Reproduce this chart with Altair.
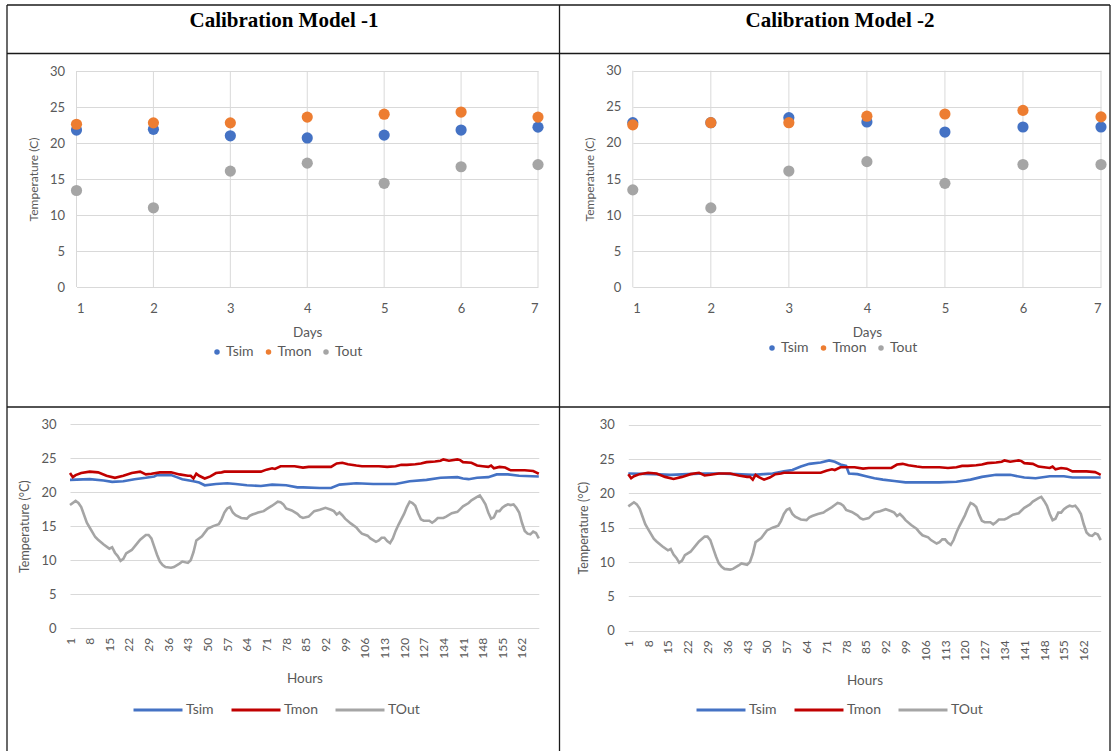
import altair as alt
import pandas as pd

# ---------------- daily averages (scatter panels) ----------------
DAYS = [1, 2, 3, 4, 5, 6, 7]
M1_TSIM = [21.8, 21.9, 21.0, 20.7, 21.1, 21.8, 22.2]
M1_TMON = [22.6, 22.8, 22.8, 23.6, 24.0, 24.3, 23.6]
M1_TOUT = [13.4, 11.0, 16.1, 17.2, 14.4, 16.7, 17.0]

M2_TSIM = [22.8, 22.8, 23.5, 22.9, 21.5, 22.2, 22.2]
M2_TMON = [22.5, 22.8, 22.8, 23.7, 24.0, 24.5, 23.6]
M2_TOUT = [13.5, 11.0, 16.1, 17.4, 14.4, 17.0, 17.0]

# ---------------- hourly series (line panels) ----------------
TOUT_HOURS = [1, 3, 4, 5, 7, 8, 10, 11, 13, 15, 16, 17, 18, 19, 20, 21, 23, 25, 26, 28,
              29, 30, 31, 32, 33, 34, 35, 37, 38, 40, 41, 43, 44, 45, 46, 48, 50, 52, 54, 55,
              56, 57, 58, 59, 60, 62, 64, 65, 66, 68, 70, 71, 73, 74, 75, 76, 77, 78, 80, 82,
              83, 84, 86, 87, 88, 90, 92, 94, 95, 96, 97, 98, 99, 101, 103, 104, 105, 107, 108, 110,
              111, 112, 113, 114, 115, 116, 117, 118, 120, 121, 122, 123, 124, 125, 126, 127, 129, 130, 131, 132,
              134, 135, 137, 139, 140, 141, 143, 144, 146, 147, 148, 149, 150, 151, 152, 153, 154, 155, 156, 157,
              158, 159, 160, 161, 162, 163, 164, 165, 166, 167, 168]
TOUT = [18.1, 18.7, 18.4, 17.8, 15.5, 14.8, 13.4, 13.0, 12.3, 11.7, 11.9, 11.1, 10.6, 9.9, 10.2, 11.0, 11.5, 12.5, 13.0, 13.7,
        13.7, 13.2, 12.0, 10.8, 9.8, 9.3, 9.0, 8.9, 9.0, 9.5, 9.8, 9.6, 10.0, 11.2, 12.9, 13.5, 14.6, 15.0, 15.3, 16.0,
        17.0, 17.6, 17.8, 17.0, 16.6, 16.2, 16.1, 16.5, 16.7, 17.0, 17.2, 17.5, 18.0, 18.3, 18.6, 18.5, 18.2, 17.6, 17.3, 16.8,
        16.4, 16.2, 16.4, 16.8, 17.2, 17.4, 17.7, 17.4, 17.2, 16.7, 17.0, 16.6, 16.1, 15.4, 14.8, 14.3, 13.9, 13.6, 13.2, 12.7,
        12.9, 13.3, 13.3, 12.8, 12.5, 13.2, 14.3, 15.2, 16.8, 17.8, 18.6, 18.4, 18.0, 16.9, 16.0, 15.8, 15.8, 15.5, 15.8, 16.2,
        16.2, 16.4, 16.9, 17.1, 17.5, 17.9, 18.4, 18.8, 19.3, 19.5, 18.9, 18.2, 17.0, 16.1, 16.3, 17.2, 17.2, 17.7, 18.0, 18.2,
        18.1, 18.2, 17.7, 17.0, 15.5, 14.3, 13.9, 13.8, 14.2, 14.0, 13.2]

TMON_HOURS = [1, 2, 3, 5, 8, 11, 14, 17, 20, 23, 26, 28, 30, 33, 37, 40, 43, 44, 45, 46,
              47, 49, 51, 53, 55, 56, 63, 69, 71, 73, 74, 76, 81, 84, 86, 94, 96, 98, 100, 103,
              105, 109, 111, 114, 117, 119, 121, 124, 126, 128, 131, 133, 134, 136, 139, 140, 141, 144, 146, 148,
              150, 151, 152, 154, 156, 158, 163, 166, 167, 168]
TMON = [22.8, 22.2, 22.5, 22.8, 23.0, 22.9, 22.4, 22.1, 22.4, 22.8, 23.0, 22.6, 22.7, 22.9, 22.9, 22.6, 22.4, 22.4, 22.0, 22.7,
        22.4, 22.0, 22.3, 22.8, 22.9, 23.0, 23.0, 23.0, 23.3, 23.5, 23.4, 23.8, 23.8, 23.6, 23.7, 23.7, 24.2, 24.3, 24.1, 23.9,
        23.8, 23.8, 23.8, 23.7, 23.8, 24.0, 24.0, 24.1, 24.2, 24.4, 24.5, 24.6, 24.8, 24.6, 24.8, 24.7, 24.4, 24.3, 23.9, 23.8,
        23.7, 23.9, 23.5, 23.7, 23.6, 23.2, 23.2, 23.1, 22.9, 22.7]

SIM1_HOURS = [1, 8, 13, 16, 20, 24, 28, 31, 32, 37, 39, 41, 45, 47, 49, 53, 57, 60, 64, 69,
              73, 78, 82, 84, 90, 94, 97, 103, 109, 117, 122, 128, 133, 139, 141, 143, 146, 150, 153, 157,
              161, 168]
TSIM1 = [21.8, 21.9, 21.7, 21.5, 21.6, 21.9, 22.1, 22.3, 22.5, 22.5, 22.2, 21.9, 21.6, 21.4, 21.0, 21.2, 21.3, 21.2, 21.0, 20.9,
         21.1, 21.0, 20.7, 20.7, 20.6, 20.6, 21.1, 21.3, 21.2, 21.2, 21.6, 21.8, 22.1, 22.2, 22.0, 21.9, 22.1, 22.2, 22.6, 22.6,
         22.4, 22.3]

SIM2_HOURS = [1, 10, 16, 22, 28, 33, 39, 45, 49, 52, 56, 59, 62, 65, 69, 72, 74, 76, 78, 79,
              82, 85, 88, 91, 95, 99, 105, 111, 117, 122, 126, 131, 136, 141, 145, 150, 155, 158, 168]
TSIM2 = [22.9, 22.8, 22.7, 22.8, 22.9, 22.9, 22.8, 22.7, 22.8, 22.9, 23.2, 23.4, 23.9, 24.3, 24.5, 24.8, 24.6, 24.2, 24.0, 22.9,
         22.8, 22.5, 22.2, 22.0, 21.8, 21.6, 21.6, 21.6, 21.7, 22.0, 22.4, 22.7, 22.7, 22.3, 22.2, 22.5, 22.5, 22.3, 22.3]

# ---------------- labels, ticks, colours ----------------
PANEL_TITLES = ["Calibration Model -1", "Calibration Model -2"]
SCATTER_SERIES = ["Tsim", "Tmon", "Tout"]
SCATTER_COLORS = ["#4472C4", "#ED7D31", "#A5A5A5"]
LINE_SERIES = ["Tsim", "Tmon", "TOut"]
LINE_COLORS = ["#4472C4", "#C00000", "#A5A5A5"]
Y_TICKS = [0, 5, 10, 15, 20, 25, 30]
HOUR_TICKS = list(range(1, 169, 7))

W, H = 1112, 751
FONT = "Lato"
GRID = "#D9D9D9"
TEXT = "#595959"


def daily_frame(tsim, tmon, tout):
    rows = []
    for name, vals in zip(SCATTER_SERIES, [tsim, tmon, tout]):
        for d, v in zip(DAYS, vals):
            rows.append({"Day": d, "Temperature": v, "Series": name})
    return pd.DataFrame(rows)


def hourly_frame(sim_hours, tsim):
    rows = []
    for name, hrs, vals in zip(LINE_SERIES, [sim_hours, TMON_HOURS, TOUT_HOURS], [tsim, TMON, TOUT]):
        for h, v in zip(hrs, vals):
            rows.append({"Hour": h, "Temperature": v, "Series": name})
    return pd.DataFrame(rows)


def scatter_panel(frame, x_left, x_right, y_bottom, y_top, legend_x, legend_y):
    x_scale = alt.Scale(domain=[1, 7], range=[x_left, x_right], nice=False, zero=False)
    y_scale = alt.Scale(domain=[0, 30], range=[y_bottom, y_top], nice=False)
    x_axis = alt.Axis(orient="bottom", offset=y_bottom - H, values=DAYS, format="d",
                      title="Days", titleFontSize=13.5, grid=False,
                      labelPadding=15, titlePadding=10)
    # vertical gridlines at every day, spanning the full temperature range
    vgrid = alt.Chart(pd.DataFrame({"Day": DAYS})).mark_rule(color=GRID, strokeWidth=1).encode(
        x=alt.X("Day:Q", scale=x_scale, axis=x_axis),
        y=alt.datum(0, scale=y_scale),
        y2=alt.datum(30),
    )
    dots = alt.Chart(frame).mark_circle(size=125, opacity=1).encode(
        x=alt.X("Day:Q", scale=x_scale, axis=x_axis),
        y=alt.Y("Temperature:Q", scale=y_scale,
                axis=alt.Axis(orient="left", offset=-x_left, values=Y_TICKS,
                              title="Temperature (C)", grid=True, labelPadding=12, titlePadding=9)),
        color=alt.Color("Series:N",
                        scale=alt.Scale(domain=SCATTER_SERIES, range=SCATTER_COLORS),
                        legend=alt.Legend(orient="none", legendX=legend_x, legendY=legend_y,
                                          direction="horizontal", title=None, symbolType="circle",
                                          symbolSize=30, labelOffset=2, columnPadding=7.5,
                                          labelFontSize=14)),
    )
    return alt.layer(vgrid, dots)


def line_panel(frame, x_left, x_right, y_bottom, y_top, legend_x, legend_y):
    return alt.Chart(frame).mark_line(strokeWidth=2.6).encode(
        x=alt.X("Hour:Q",
                scale=alt.Scale(domain=[1, 168], range=[x_left, x_right], nice=False, zero=False),
                axis=alt.Axis(orient="bottom", offset=y_bottom - H, values=HOUR_TICKS, format="d",
                              title="Hours", titleFontSize=13.5, grid=False, labelAngle=270,
                              labelFontSize=12, labelPadding=9,
                              labelOverlap=False, labelFlush=False, titlePadding=13)),
        y=alt.Y("Temperature:Q",
                scale=alt.Scale(domain=[0, 30], range=[y_bottom, y_top], nice=False),
                axis=alt.Axis(orient="left", offset=-x_left, values=Y_TICKS,
                              title="Temperature (°C)", titleFontSize=12.5, grid=True,
                              labelPadding=14, titlePadding=9)),
        color=alt.Color("Series:N",
                        scale=alt.Scale(domain=LINE_SERIES, range=LINE_COLORS),
                        legend=alt.Legend(orient="none", legendX=legend_x, legendY=legend_y,
                                          direction="horizontal", title=None, symbolType="stroke",
                                          symbolSize=2400, symbolStrokeWidth=3, labelOffset=2,
                                          columnPadding=11, labelFontSize=14)),
    )


# table frame around the four panels
border_rows = [
    {"x1": 7, "x2": 1110, "y1": 5, "y2": 5},
    {"x1": 7, "x2": 1110, "y1": 53.5, "y2": 53.5},
    {"x1": 7, "x2": 1110, "y1": 407, "y2": 407},
    {"x1": 7, "x2": 7, "y1": 5, "y2": 751},
    {"x1": 559.5, "x2": 559.5, "y1": 5, "y2": 751},
    {"x1": 1110, "x2": 1110, "y1": 5, "y2": 751},
]
borders = alt.Chart(pd.DataFrame(border_rows)).mark_rule(color="#1a1a1a", strokeWidth=1.3).encode(
    x=alt.X("x1:Q", scale=None, axis=None),
    x2="x2:Q",
    y=alt.Y("y1:Q", scale=None, axis=None),
    y2="y2:Q",
)

titles = alt.Chart(pd.DataFrame({"label": PANEL_TITLES, "cx": [284, 840], "cy": [21, 21]})).mark_text(
    font="Liberation Serif", fontSize=21, fontWeight="bold", color="#000000",
    align="center", baseline="middle",
).encode(
    x=alt.X("cx:Q", scale=None, axis=None),
    y=alt.Y("cy:Q", scale=None, axis=None),
    text="label:N",
)

sc1 = scatter_panel(daily_frame(M1_TSIM, M1_TMON, M1_TOUT), 76.5, 538, 287, 71, 210, 345)
sc2 = scatter_panel(daily_frame(M2_TSIM, M2_TMON, M2_TOUT), 632.8, 1101, 287.3, 70.7, 765, 341)
ln1 = line_panel(hourly_frame(SIM1_HOURS, TSIM1), 70, 538.8, 628.3, 424, 132, 684)
ln2 = line_panel(hourly_frame(SIM2_HOURS, TSIM2), 628.3, 1100.7, 630.7, 424.7, 695, 684)

chart = alt.layer(borders, titles, sc1, sc2, ln1, ln2).resolve_scale(
    x="independent", y="independent", color="independent"
).properties(
    width=W, height=H, padding=0,
    autosize=alt.AutoSizeParams(type="none"),
    background="white",
).configure_view(
    stroke=None
).configure_axis(
    labelFont=FONT, labelFontSize=13, labelColor=TEXT,
    titleFont=FONT, titleFontSize=12, titleColor=TEXT, titleFontWeight="normal",
    gridColor=GRID, gridWidth=1, domain=False, ticks=False,
).configure_legend(
    labelFont=FONT, labelFontSize=14, labelColor=TEXT,
)

chart.save("out.html", embed_options={"renderer": "svg", "actions": False})
